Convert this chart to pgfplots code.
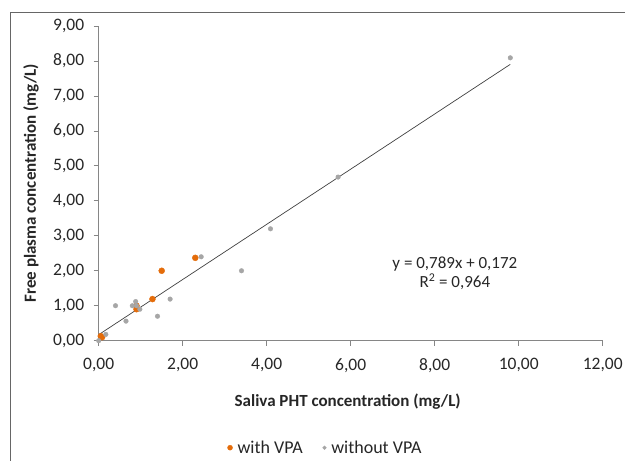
\documentclass[border=0pt]{standalone}
\usepackage{pgfplots}
\pgfplotsset{compat=1.18}
\usepackage{fontspec}
\setmainfont{Carlito}

\definecolor{vpaorange}{HTML}{E46C0A}
\definecolor{vpagray}{HTML}{A6A6A6}
\definecolor{axgray}{HTML}{868686}
\definecolor{txt}{HTML}{262626}

\begin{document}
\begin{tikzpicture}[x=1pt,y=1pt]
  \path[use as bounding box] (0,0) rectangle (625,461);
  \draw[line width=1.3pt, black!60] (10.7,-20) -- (10.7,448.7) -- (660,448.7);
  \begin{axis}[
    anchor=south west,
    at={(98.7pt,120.3pt)},
    scale only axis,
    width=504pt,
    height=314.7pt,
    xmin=0, xmax=12,
    ymin=0, ymax=9,
    xtick={0,2,...,12},
    ytick={0,1,...,9},
    axis x line*=bottom,
    axis y line*=left,
    axis line style={axgray, line width=0.8pt},
    tick style={axgray, line width=0.8pt},
    tick align=outside,
    major tick length=5pt,
    ticklabel style={font=\fontsize{17.5}{19}\selectfont, text=txt},
    /pgf/number format/.cd, fixed, fixed zerofill, precision=2, use comma, assume math mode=true,
    /pgfplots/.cd,
    xticklabel style={yshift=-9pt},
    yticklabel style={xshift=-6pt},
    xlabel={\textbf{Saliva PHT concentration (mg/L)}},
    ylabel={\textbf{Free plasma concentration (mg/L)}},
    label style={font=\fontsize{17}{19}\selectfont, text=txt},
    xlabel style={at={(0.5,0)}, anchor=center, yshift=-61.3pt, xshift=-3pt},
    ylabel style={at={(0,0.5)}, anchor=center, yshift=67.7pt},
    legend columns=2,
    legend style={at={(0.45,-0.34)}, anchor=center, draw=none, fill=none,
      font=\fontsize{18}{19}\selectfont, text=txt,
      /tikz/every odd column/.append style={column sep=3pt},
      /tikz/every even column/.append style={column sep=18pt}},
    legend cell align=left,
    clip=false,
  ]
    % trend line from the fit shown in the chart
    \addplot[forget plot, black!75, line width=0.7pt] coordinates {
      (0,0.172) (9.8,7.904)
    };

    \addplot[only marks, mark=*, mark size=3pt, color=vpaorange,
      mark options={draw=vpaorange, fill=vpaorange},
      legend image post style={mark size=2.5pt}] coordinates {
      (2.30,2.37) (1.50,2.00) (1.28,1.19) (0.90,1.00) (0.90,0.90)
      (0.08,0.10) (0.05,0.13)
    };
    \addlegendentry{with VPA}

    \addplot[only marks, mark=*, mark size=2.3pt, color=vpagray,
      mark options={draw=vpagray, fill=vpagray},
      legend image post style={mark size=1.8pt}] coordinates {
      (9.80,8.09) (5.70,4.68) (4.09,3.20) (2.44,2.40) (3.40,2.00)
      (1.70,1.19) (1.40,0.70) (0.65,0.56) (0.40,1.00) (0.80,1.00)
      (0.88,1.12) (0.98,0.90) (0.17,0.18) (0.00,0.00) (0.90,1.00)
    };
    \addlegendentry{without VPA}

    \node[font=\fontsize{17}{19}\selectfont, text=txt, align=center]
      at (axis cs:8.48,1.92) {y = 0,789x + 0,172\\R\textsuperscript{2} = 0,964};
  \end{axis}
\end{tikzpicture}
\end{document}
